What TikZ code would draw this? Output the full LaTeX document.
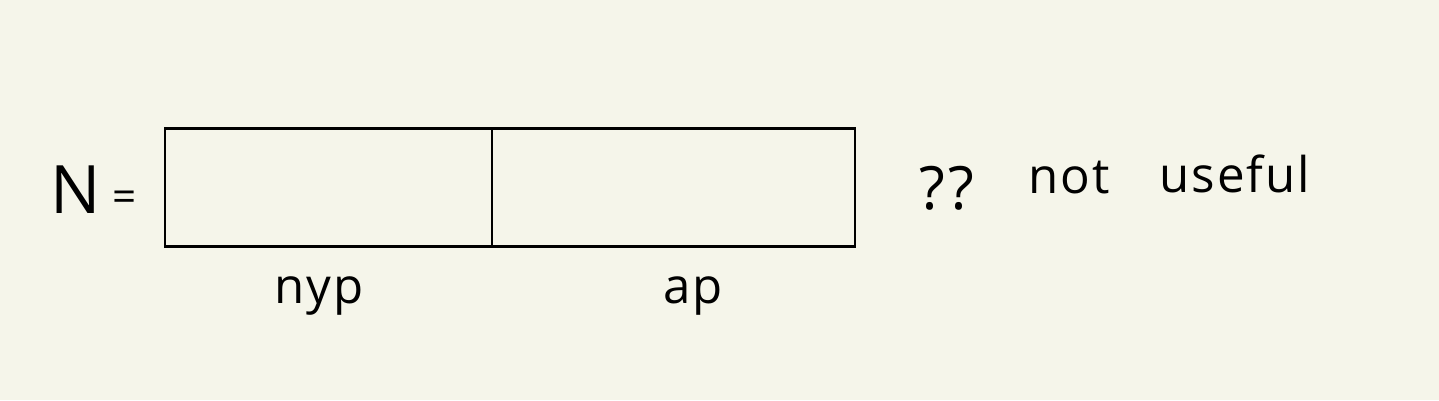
\documentclass[tikz,border=0pt]{standalone}
\usepackage{fontspec}
\setmainfont{Open Sans}
\definecolor{bg}{RGB}{245,245,234}
\begin{document}
\begin{tikzpicture}[x=1cm,y=1cm,
  part/.style={draw=black, line width=0.85pt, minimum height=1.18cm, inner sep=0pt, outer sep=0pt},
  lbl/.style={font=\fontsize{14}{17}\selectfont\addfontfeature{LetterSpace=4}, inner sep=0pt}]
\fill[bg] (0,0) rectangle (14.39,4.00);
\useasboundingbox (0,0) rectangle (14.39,4.00);
\node[part, minimum width=3.27cm, anchor=north west] (nyp) at (1.65,2.72) {};
\node[part, minimum width=3.63cm, anchor=north west] (ap) at (4.92,2.72) {};
\node[lbl, font=\fontsize{19}{22}\selectfont] (N) at (0.76,2.10) {N};
\node[lbl, font=\fontsize{12}{14}\selectfont] (eq) at (1.25,1.99) {=};
\node[lbl] (t1) at (3.19,1.04) {nyp};
\node[lbl] (t2) at (6.93,1.04) {ap};
\node[lbl, font=\fontsize{17}{20}\selectfont\addfontfeature{LetterSpace=6}] (q) at (9.47,2.12) {??};
\node[lbl] (n) at (10.69,2.22) {not};
\node[lbl] (u) at (12.35,2.26) {useful};
\end{tikzpicture}
\end{document}
